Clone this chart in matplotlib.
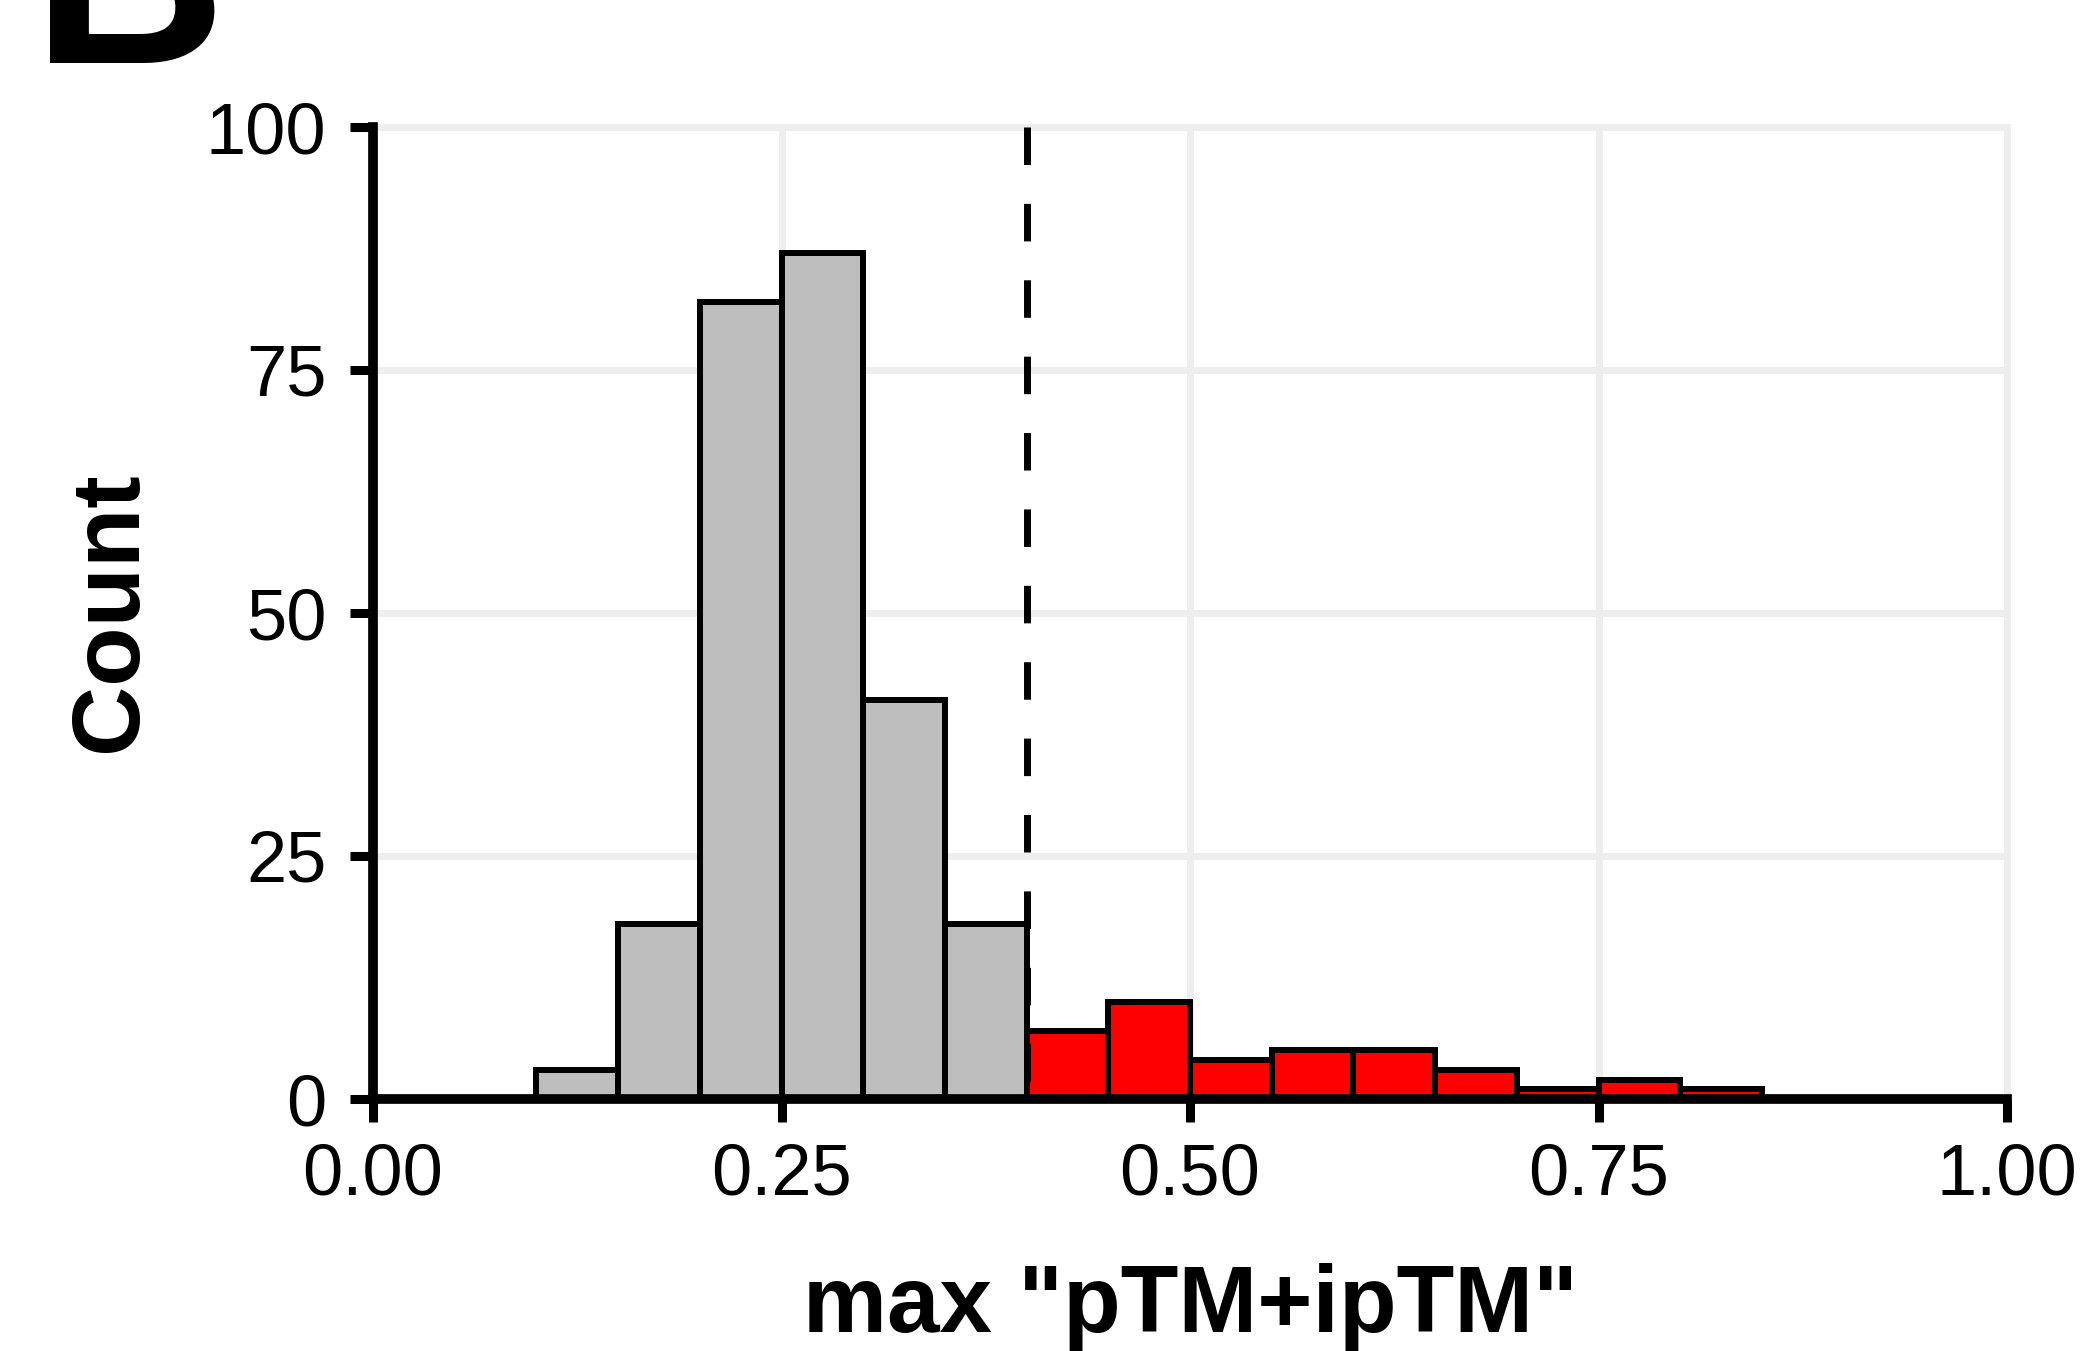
import matplotlib
matplotlib.use('Agg')
import matplotlib.pyplot as plt
import numpy as np

plt.rcParams['font.family'] = ['Liberation Sans', 'DejaVu Sans']
plt.rcParams['lines.scale_dashes'] = False

# histogram of max "pTM+ipTM", bin width 0.05 from 0 to 1
bin_edges = [0.00, 0.05, 0.10, 0.15, 0.20, 0.25, 0.30, 0.35, 0.40, 0.45,
             0.50, 0.55, 0.60, 0.65, 0.70, 0.75, 0.80, 0.85, 0.90, 0.95, 1.00]
counts = [0, 0, 3, 18, 82, 87, 41, 18, 7, 10, 4, 5, 5, 3, 1, 2, 1, 0, 0, 0]
cutoff = 0.40
x_ticks = [0.00, 0.25, 0.50, 0.75, 1.00]
y_ticks = [0, 25, 50, 75, 100]

GREY = '#bebebe'
RED = '#ff0000'
GRID = '#eeeeee'

fig = plt.figure(figsize=(20.88, 13.51), dpi=100)
ax = fig.add_axes([373 / 2088, 1 - 1099 / 1351, (2007 - 373) / 2088, (1099 - 127) / 1351])

lefts = np.array(bin_edges[:-1])
widths = np.diff(bin_edges)
colors = [GREY if l < cutoff - 1e-9 else RED for l in lefts]
ax.bar(lefts, counts, width=widths, align='edge', color=colors,
       edgecolor='black', linewidth=4.3, zorder=3)

# threshold line, dashes start from the top
ax.plot([cutoff, cutoff], [100, 0], color='black', linewidth=5,
        dashes=(27, 28), zorder=4)

ax.set_xlim(0, 1)
ax.set_ylim(0, 100)
ax.set_xticks(x_ticks)
ax.set_xticklabels([f'{v:.2f}' for v in x_ticks])
ax.set_yticks(y_ticks)
ax.set_yticklabels([str(v) for v in y_ticks])

ax.grid(True, color=GRID, linewidth=5, zorder=0)
ax.set_axisbelow(True)
for gl in ax.get_xgridlines() + ax.get_ygridlines():
    gl.set_clip_on(False)

for side in ['top', 'right']:
    ax.spines[side].set_visible(False)
for side in ['left', 'bottom']:
    ax.spines[side].set_linewidth(7)
    ax.spines[side].set_zorder(5)
    ax.spines[side].set_capstyle('projecting')

ax.tick_params(axis='both', direction='out', length=16.5, width=6.5,
               labelsize=52, colors='black')
ax.tick_params(axis='x', pad=15)
ax.tick_params(axis='y', pad=17)

fig.text(1190 / 2088, 1 - 1332 / 1351, 'max "pTM+ipTM"', fontsize=68,
         fontweight='bold', ha='center', va='baseline')
fig.text(136 / 2088, 1 - 612 / 1351, 'Count', fontsize=70, fontweight='bold',
         rotation=90, rotation_mode='anchor', ha='center', va='baseline')

# panel letter, mostly cut off at the top
fig.text(32 / 2088, 1 - 63 / 1351, 'B', fontsize=194, fontweight='bold',
         ha='left', va='baseline')

fig.savefig('out.png', dpi=100)
